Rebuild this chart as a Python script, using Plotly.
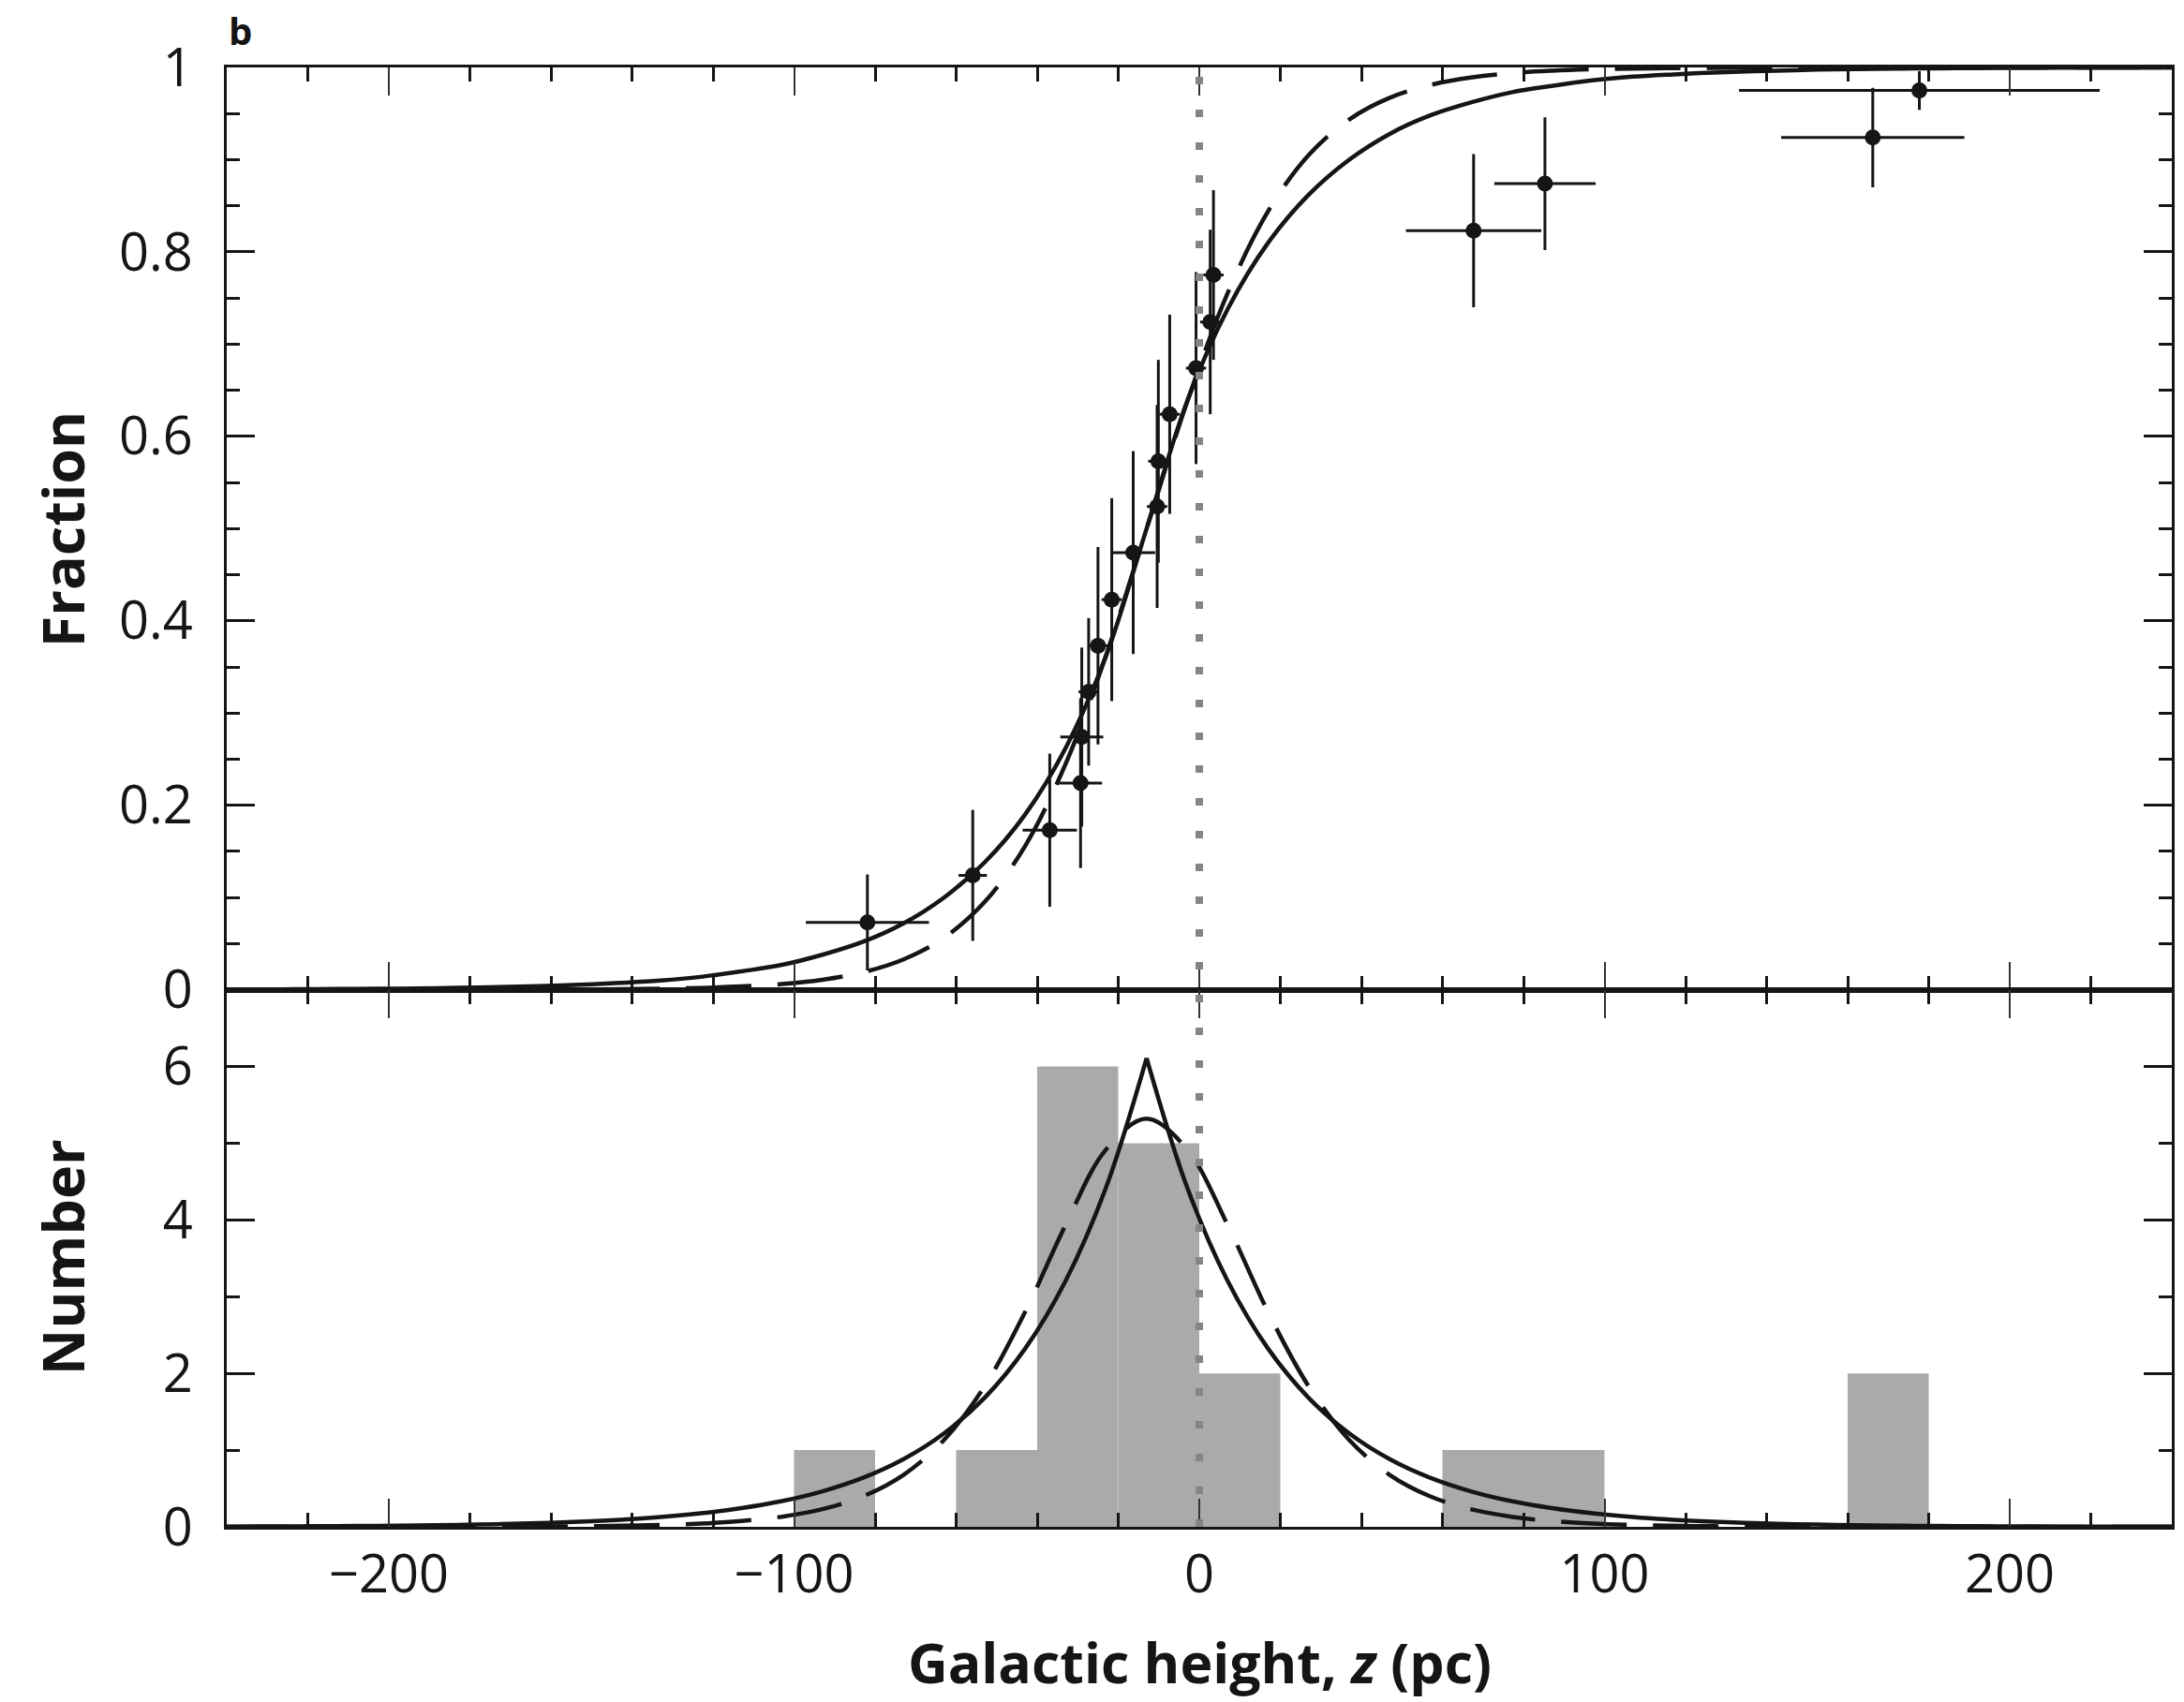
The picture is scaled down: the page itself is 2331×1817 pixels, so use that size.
import plotly.graph_objects as go

# ---------------- data ----------------
# Top panel: cumulative fraction of sources vs Galactic height (pc)
pt_z = [-81.9, -55.9, -36.9, -29.3, -29.0, -27.3, -25.0, -21.6, -16.3, -10.4,
        -10.1, -7.3, -0.8, 2.7, 3.5, 67.7, 85.3, 166.2, 177.7]
pt_frac = [0.073, 0.124, 0.173, 0.224, 0.274, 0.323, 0.373, 0.423, 0.474, 0.524,
           0.573, 0.624, 0.674, 0.724, 0.775, 0.823, 0.874, 0.924, 0.975]
pt_z_err = [15.2, 3.5, 6.7, 5.3, 5.3, 2.5, 2.5, 2.5, 5.4, 2.5,
            2.5, 2.5, 2.5, 2.5, 2.5, 16.7, 12.5, 22.6, 44.5]
pt_frac_err = [0.052, 0.071, 0.083, 0.092, 0.097, 0.080, 0.107, 0.110, 0.110, 0.110,
               0.110, 0.108, 0.104, 0.100, 0.092, 0.083, 0.072, 0.054, 0.021]

# Bottom panel: histogram (20 pc bins)
bin_left = [-100, -80, -60, -40, -20, 0, 20, 40, 60, 80, 100, 120, 140, 160, 180]
bin_count = [1, 0, 1, 6, 5, 2, 0, 0, 1, 1, 0, 0, 0, 2, 0]
bin_width = 20

# Model curves
model_z = [-240, -233, -223, -213, -203, -193, -183, -173, -163, -153, -143, -133,
           -123, -113, -103, -93, -83, -73, -63, -53, -43, -33, -23, -13, -3, 7,
           17, 27, 37, 47, 57, 67, 77, 87, 97, 107, 117, 127, 137, 147, 157, 167,
           177, 187, 197, 207, 217, 227, 237, 240]
cdf_solid = [0.0003, 0.0004, 0.0006, 0.0008, 0.0011, 0.0015, 0.0021, 0.0029, 0.004,
             0.0055, 0.0075, 0.010, 0.014, 0.020, 0.027, 0.038, 0.052, 0.072, 0.100,
             0.138, 0.190, 0.262, 0.362, 0.500, 0.638, 0.738, 0.810, 0.862, 0.900,
             0.928, 0.948, 0.962, 0.973, 0.980, 0.986, 0.990, 0.9925, 0.9945, 0.996,
             0.997, 0.998, 0.9985, 0.9989, 0.9992, 0.9994, 0.9996, 0.9997, 0.9998,
             0.9998, 0.9999]
cdf_dashed = [0, 0, 0, 0, 0, 0, 0.0001, 0.0001, 0.0002, 0.0004, 0.0007, 0.0012,
              0.0020, 0.0036, 0.0062, 0.0109, 0.0190, 0.0329, 0.0564, 0.0950, 0.1557,
              0.2447, 0.3627, 0.5, 0.6373, 0.7553, 0.8443, 0.9050, 0.9436, 0.9671,
              0.9810, 0.9891, 0.9938, 0.9964, 0.9980, 0.9988, 0.9993, 0.9996, 0.9998,
              0.9999, 0.9999, 1, 1, 1, 1, 1, 1, 1, 1, 1]
pdf_solid = [0.004, 0.005, 0.007, 0.010, 0.013, 0.018, 0.025, 0.035, 0.048, 0.067,
             0.092, 0.127, 0.176, 0.243, 0.335, 0.463, 0.639, 0.882, 1.218, 1.681,
             2.321, 3.205, 4.425, 6.11, 4.425, 3.205, 2.321, 1.681, 1.218, 0.882,
             0.639, 0.463, 0.335, 0.243, 0.176, 0.127, 0.092, 0.067, 0.048, 0.035,
             0.025, 0.018, 0.013, 0.010, 0.007, 0.005, 0.004, 0.003, 0.002, 0.002]
pdf_dashed = [0, 0, 0, 0, 0, 0.001, 0.0015, 0.0026, 0.0046, 0.008, 0.014, 0.025,
              0.043, 0.076, 0.132, 0.230, 0.397, 0.677, 1.133, 1.831, 2.798, 3.934,
              4.919, 5.32, 4.919, 3.934, 2.798, 1.831, 1.133, 0.677, 0.397, 0.230,
              0.132, 0.076, 0.043, 0.025, 0.014, 0.008, 0.0046, 0.0026, 0.0015,
              0.001, 0, 0, 0, 0, 0, 0, 0, 0]

# ---------------- styling ----------------
INK = "#151515"
FONT = "Open Sans"
LW = 4.5
DASH = "70px,28px"

fig = go.Figure()

# histogram
fig.add_trace(go.Bar(x=bin_left, y=bin_count, width=bin_width, offset=0,
                     marker=dict(color="#aaaaaa", line=dict(width=0)),
                     xaxis="x2", yaxis="y2", hoverinfo="skip"))

# bottom-panel model curves (solid one has a cusp: draw its two branches)
peak = pdf_solid.index(max(pdf_solid))
fig.add_trace(go.Scatter(x=model_z[:peak + 1], y=pdf_solid[:peak + 1], mode="lines",
                         line=dict(color=INK, width=LW, shape="spline"),
                         xaxis="x2", yaxis="y2"))
fig.add_trace(go.Scatter(x=model_z[peak:], y=pdf_solid[peak:], mode="lines",
                         line=dict(color=INK, width=LW, shape="spline"),
                         xaxis="x2", yaxis="y2"))
fig.add_trace(go.Scatter(x=model_z, y=pdf_dashed, mode="lines",
                         line=dict(color=INK, width=LW, shape="spline", dash=DASH),
                         xaxis="x2", yaxis="y2"))

# top-panel model curves
fig.add_trace(go.Scatter(x=model_z, y=cdf_solid, mode="lines",
                         line=dict(color=INK, width=LW, shape="spline"),
                         xaxis="x", yaxis="y"))
fig.add_trace(go.Scatter(x=model_z, y=cdf_dashed, mode="lines",
                         line=dict(color=INK, width=LW, shape="spline", dash=DASH),
                         xaxis="x", yaxis="y"))

# data points with error bars
fig.add_trace(go.Scatter(
    x=pt_z, y=pt_frac, mode="markers",
    marker=dict(color=INK, size=17),
    error_x=dict(type="data", array=pt_z_err, thickness=3, width=0, color=INK),
    error_y=dict(type="data", array=pt_frac_err, thickness=3, width=0, color=INK),
    xaxis="x", yaxis="y", cliponaxis=False))

# dotted line at z = 0 through both panels
fig.add_shape(type="line", xref="x", yref="paper", x0=0, x1=0, y0=0, y1=1,
              line=dict(color="#858585", width=8, dash="8px,27px"), layer="above")

split = 0.368
tickfont = dict(family=FONT, size=56, color=INK)
common_x = dict(range=[-240, 240], showline=True, linewidth=3, linecolor=INK,
                mirror="ticks", ticks="inside", tickmode="linear", tick0=0, dtick=100,
                ticklen=30, tickwidth=2, tickcolor="#333333",
                minor=dict(ticks="inside", tick0=0, dtick=20, ticklen=15, tickwidth=3,
                           tickcolor=INK),
                showgrid=False, zeroline=False, tickfont=tickfont)
fig.update_layout(
    width=2331, height=1817,
    margin=dict(l=242, r=10, t=72, b=187),
    paper_bgcolor="white", plot_bgcolor="white",
    showlegend=False,
    xaxis=dict(common_x, anchor="y", showticklabels=False),
    xaxis2=dict(common_x, anchor="y2", matches="x", showticklabels=True,
                ticklabelstandoff=0),
    yaxis=dict(domain=[split, 1], range=[0, 1], anchor="x", showline=True,
               linewidth=3, linecolor=INK, mirror="ticks", ticks="inside",
               tickmode="linear", tick0=0, dtick=0.2, ticklen=30, tickwidth=3,
               tickcolor=INK,
               minor=dict(ticks="inside", tick0=0, dtick=0.05, ticklen=14,
                          tickwidth=3, tickcolor=INK),
               showgrid=False, zeroline=False, tickfont=tickfont,
               ticklabelstandoff=22),
    yaxis2=dict(domain=[0, split], range=[0, 7], anchor="x2", showline=True,
                linewidth=3, linecolor=INK, mirror="ticks", ticks="inside",
                tickmode="linear", tick0=0, dtick=2, ticklen=30, tickwidth=3,
                tickcolor=INK,
                minor=dict(ticks="inside", tick0=0, dtick=1, ticklen=14,
                           tickwidth=3, tickcolor=INK),
                showgrid=False, zeroline=False, tickfont=tickfont,
                ticklabelstandoff=22),
)

titlefont = dict(family=FONT, size=61, color=INK, weight=700)
fig.add_annotation(text="Fraction", xref="paper", yref="paper", x=-0.0842, y=0.6836,
                   textangle=-90, showarrow=False, font=titlefont,
                   xanchor="center", yanchor="middle")
fig.add_annotation(text="Number", xref="paper", yref="paper", x=-0.0842, y=0.1849,
                   textangle=-90, showarrow=False, font=titlefont,
                   xanchor="center", yanchor="middle")
fig.add_annotation(text="Galactic height, <i>z</i> (pc)", xref="paper", yref="paper",
                   x=0.5, y=-0.0925, showarrow=False,
                   font=dict(family=FONT, size=59, color=INK, weight=700),
                   xanchor="center", yanchor="middle")
# panel letter (kept fully inside the picture)
fig.add_annotation(text="b", xref="paper", yref="paper", x=0.0, y=1.044,
                   showarrow=False, xanchor="left", yanchor="top",
                   font=dict(family=FONT, size=40, color=INK, weight=700))

fig.write_html("out.html")
